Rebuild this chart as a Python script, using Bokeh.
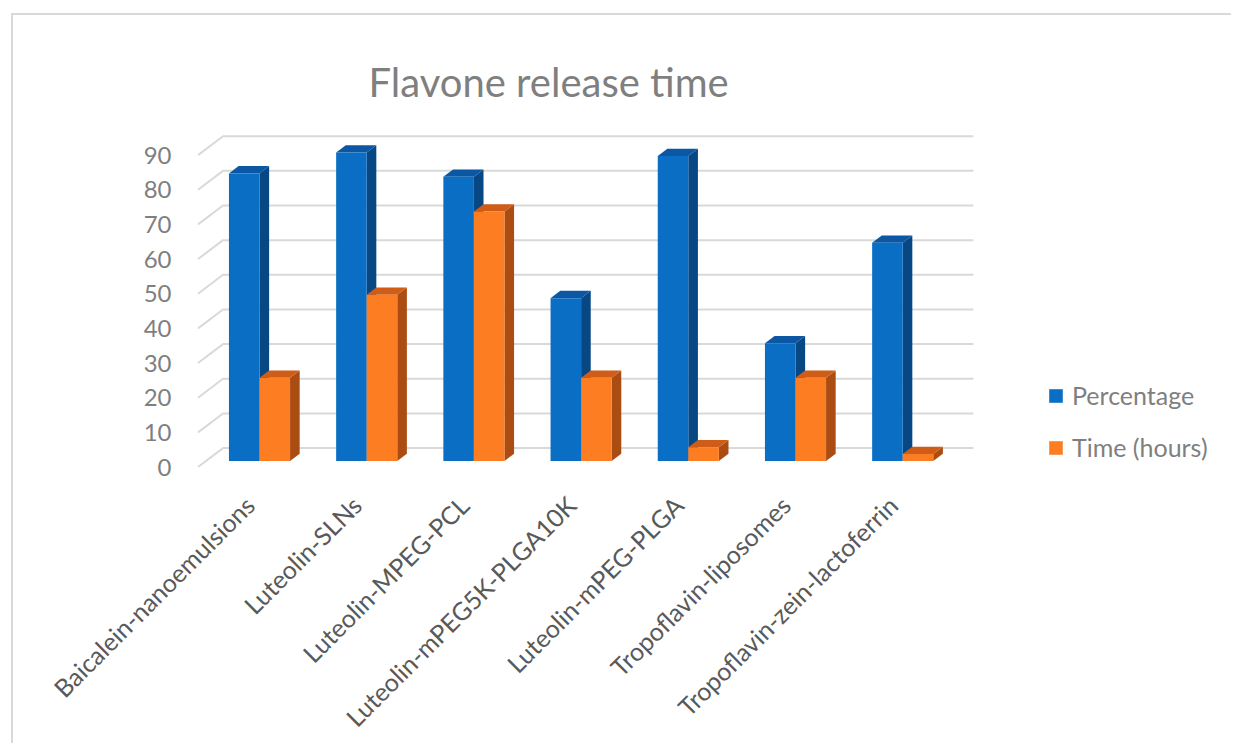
from math import pi
from bokeh.plotting import figure
from bokeh.models import Range1d, LinearAxis, FixedTicker, Legend, LegendItem
from bokeh.embed import file_html
from bokeh.resources import INLINE

# ---------------- data ----------------
CATEGORIES = ["Baicalein-nanoemulsions", "Luteolin-SLNs", "Luteolin-MPEG-PCL",
              "Luteolin-mPEG5K-PLGA10K", "Luteolin-mPEG-PLGA",
              "Tropoflavin-liposomes", "Tropoflavin-zein-lactoferrin"]
PERCENTAGE = [83, 89, 82, 47, 88, 34, 63]
TIME_HOURS = [24, 48, 72, 24, 4, 24, 2]
SERIES_NAMES = ["Percentage", "Time (hours)"]
Y_TICKS = [0, 10, 20, 30, 40, 50, 60, 70, 80, 90]
TITLE = "Flavone release time"

# ---------------- layout / style constants (page pixels) ----------------
PAGE_W, PAGE_H = 1233, 745
BORDER_X, BORDER_Y, BORDER_W = 11, 13, 2          # chart-area border (top/left)
OX, OY = BORDER_X + BORDER_W, BORDER_Y + BORDER_W  # canvas origin on the page
W, H = PAGE_W - OX, PAGE_H - OY
FRAME_L, FRAME_R, FRAME_T, FRAME_B = 197 - OX, W, 110 - OY, 468.5 - OY
PX_CAT = 107.2      # pixels per category
PX_UNIT = 3.48      # pixels per value unit
ORIGIN_X = 259.0 - OX   # x of category 0 (bars meet here)
BASE_Y = 462.0 - OY     # y of value 0 on the bar front plane

x_start = (FRAME_L - ORIGIN_X) / PX_CAT
x_end = (FRAME_R - ORIGIN_X) / PX_CAT
y_start = (BASE_Y - FRAME_B) / PX_UNIT
y_end = (BASE_Y - FRAME_T) / PX_UNIT

DEPTH_X = 25 / PX_CAT      # full floor depth, data units
DEPTH_Y = 19 / PX_UNIT
F_FRONT = 6 / 19           # bars sit this far behind the front plane
F_BAR = 0.385              # bar depth as fraction of floor depth
BAR_W = 0.285
LABEL_SHIFT = 10 / PX_CAT  # category labels end slightly left of the group centre

FONT = "Lato"
COLORS = {
    "Percentage": ("#0a6fc4", "#0b57a3", "#074784"),   # front, top, side
    "Time (hours)": ("#fd7e22", "#cf5d17", "#ab4c12"),
}
GRID_COLOR = "#d9d9d9"

p = figure(width=int(W), height=int(H), x_range=Range1d(x_start, x_end),
           y_range=Range1d(y_start, y_end), output_backend="svg",
           toolbar_location=None, x_axis_location=None, y_axis_location=None,
           min_border_left=int(FRAME_L), min_border_right=0,
           min_border_top=int(FRAME_T), min_border_bottom=int(H - FRAME_B),
           title=TITLE, margin=(BORDER_Y, 0, 0, BORDER_X),
           styles={"border-top": f"{BORDER_W}px solid {GRID_COLOR}",
                   "border-left": f"{BORDER_W}px solid {GRID_COLOR}"})
p.grid.visible = False
p.outline_line_color = None
p.background_fill_color = "white"
p.border_fill_color = "white"

p.title.text_font = FONT
p.title.text_font_size = "40px"
p.title.text_font_style = "normal"
p.title.text_color = "#7f7f7f"
p.title.align = "left"
p.title.offset = 171
p.title.standoff = 9

# ---------------- 3D grid (front-left diagonal + back wall) ----------------
fx = -0.5 - F_FRONT * DEPTH_X
bx0 = -0.5 + (1 - F_FRONT) * DEPTH_X
bx1 = len(CATEGORIES) - 0.5 + (1 - F_FRONT) * DEPTH_X
gxs, gys = [], []
for v in Y_TICKS:
    gxs.append([fx, bx0, bx1])
    gys.append([v - F_FRONT * DEPTH_Y, v + (1 - F_FRONT) * DEPTH_Y,
                v + (1 - F_FRONT) * DEPTH_Y])
p.multi_line(gxs, gys, line_color=GRID_COLOR, line_width=2)

# ---------------- 3D bars ----------------
bdx, bdy = F_BAR * DEPTH_X, F_BAR * DEPTH_Y
front_renderers = []
for s, (name, vals) in enumerate(zip(SERIES_NAMES, [PERCENTAGE, TIME_HOURS])):
    front_c, top_c, side_c = COLORS[name]
    lefts = [i - BAR_W + s * BAR_W for i in range(len(vals))]
    rights = [l + BAR_W for l in lefts]
    side_xs = [[r, r + bdx, r + bdx, r] for r in rights]
    side_ys = [[0, bdy, v + bdy, v] for v in vals]
    top_xs = [[l, r, r + bdx, l + bdx] for l, r in zip(lefts, rights)]
    top_ys = [[v, v, v + bdy, v + bdy] for v in vals]
    p.patches(side_xs, side_ys, fill_color=side_c, line_color=None)
    p.patches(top_xs, top_ys, fill_color=top_c, line_color=None)
    r = p.quad(left=lefts, right=rights, bottom=[0] * len(vals), top=vals,
               fill_color=front_c, line_color=None)
    front_renderers.append(r)

# ---------------- axes ----------------
shift = F_FRONT * DEPTH_Y
p.extra_y_ranges = {"front": Range1d(y_start + shift, y_end + shift)}
p.extra_x_ranges = {"labels": Range1d(x_start + LABEL_SHIFT, x_end + LABEL_SHIFT)}

yaxis = LinearAxis(y_range_name="front", ticker=FixedTicker(ticks=Y_TICKS))
yaxis.axis_line_color = None
yaxis.major_tick_line_color = None
yaxis.minor_tick_line_color = None
yaxis.major_tick_out = 0
yaxis.major_label_standoff = 26
yaxis.major_label_text_font = FONT
yaxis.major_label_text_font_size = "24px"
yaxis.major_label_text_color = "#7f7f7f"
p.add_layout(yaxis, "left")

xaxis = LinearAxis(x_range_name="labels",
                   ticker=FixedTicker(ticks=list(range(len(CATEGORIES)))))
xaxis.major_label_overrides = {i: c for i, c in enumerate(CATEGORIES)}
xaxis.major_label_orientation = pi / 4
xaxis.axis_line_color = None
xaxis.major_tick_line_color = None
xaxis.minor_tick_line_color = None
xaxis.major_tick_out = 0
xaxis.major_label_standoff = 33
xaxis.major_label_text_font = FONT
xaxis.major_label_text_font_size = "25px"
xaxis.major_label_text_color = "#595959"
p.add_layout(xaxis, "below")

# ---------------- legend ----------------
legend = Legend(items=[LegendItem(label=n, renderers=[r])
                       for n, r in zip(SERIES_NAMES, front_renderers)],
                location=(850, 5), glyph_width=17, glyph_height=17,
                label_text_font=FONT, label_text_font_size="25px",
                label_text_color="#7f7f7f", spacing=22, padding=0, margin=0,
                label_standoff=8, border_line_color=None,
                background_fill_alpha=0)
p.add_layout(legend)

open("out.html", "w").write(file_html(p, INLINE))
